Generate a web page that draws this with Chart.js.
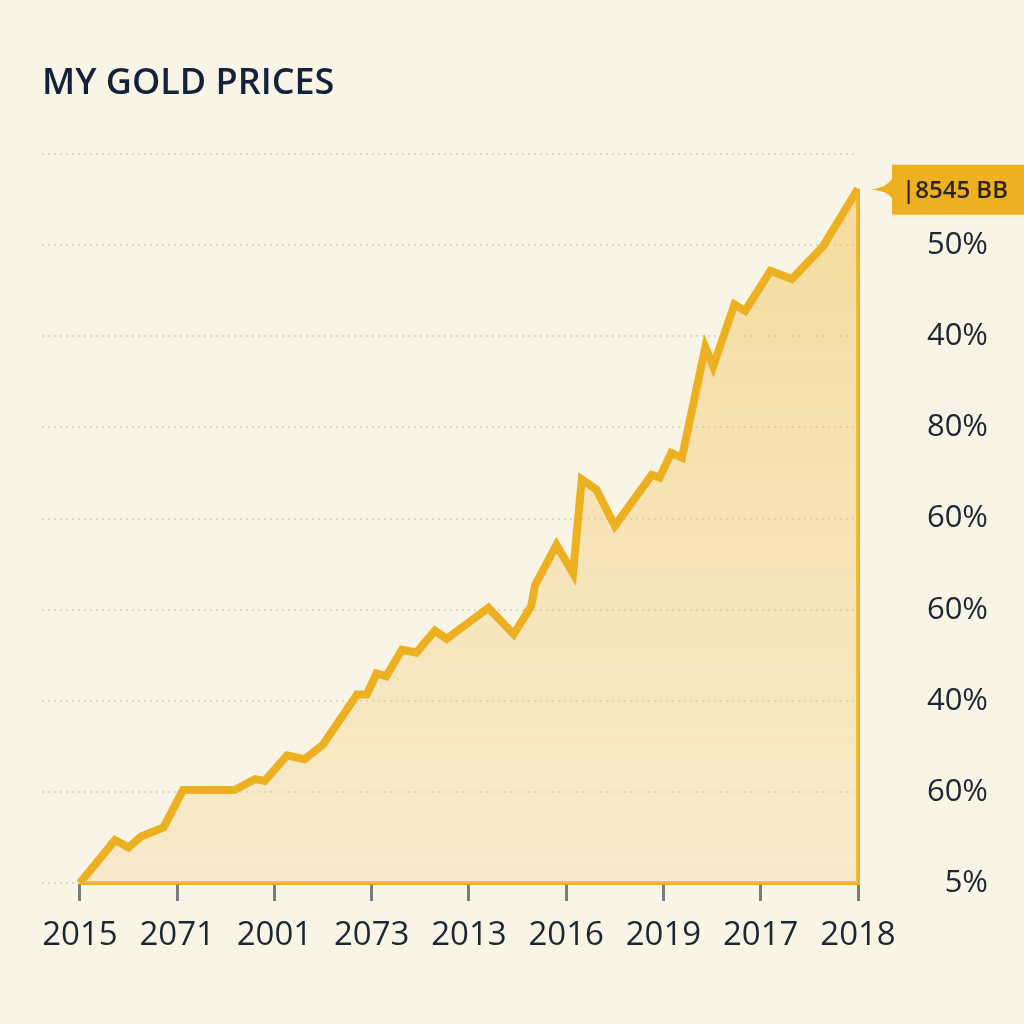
<!DOCTYPE html>
<html>
<head>
<meta charset="utf-8">
<title>My Gold Prices</title>
<script src="https://cdn.jsdelivr.net/npm/chart.js@4.4.1/dist/chart.umd.min.js"></script>
<style>
  html, body { margin: 0; padding: 0; background: #f8f5e7; }
  #wrap { width: 1024px; height: 1024px; position: relative; }
</style>
</head>
<body>
<div id="wrap"><canvas id="goldChart"></canvas></div>
<script>
// --- data ---
const years = ['2015', '2071', '2001', '2073', '2013', '2016', '2019', '2017', '2018'];
const yLabels = ['5%', '60%', '40%', '60%', '60%', '80%', '40%', '50%', ''];
const priceX = [0, 0.36, 0.50, 0.63, 0.86, 1.06, 1.59, 1.80, 1.90, 2.13, 2.31, 2.50, 2.85, 2.95,
  3.05, 3.15, 3.31, 3.46, 3.65, 3.77, 4.20, 4.46, 4.64, 4.68, 4.90, 5.07, 5.16, 5.31, 5.50,
  5.88, 5.96, 6.08, 6.19, 6.43, 6.51, 6.73, 6.84, 7.10, 7.32, 7.58, 7.64, 8.00];
const priceY = [0, 0.47, 0.39, 0.51, 0.61, 1.02, 1.02, 1.14, 1.12, 1.40, 1.36, 1.52, 2.07, 2.07,
  2.30, 2.27, 2.56, 2.53, 2.77, 2.68, 3.02, 2.73, 3.04, 3.27, 3.71, 3.40, 4.43, 4.32, 3.92,
  4.48, 4.45, 4.72, 4.67, 5.88, 5.67, 6.35, 6.28, 6.72, 6.63, 6.92, 6.99, 7.62];
const frameX = [0, 8, 8];
const frameY = [0, 0, 7.62];
const calloutText = '|8545 BB';

const GOLD = '#ecb021';
const INK = '#1d2733';

// callout box next to the last point
const calloutPlugin = {
  id: 'callout',
  afterDatasetsDraw(chart) {
    const meta = chart.getDatasetMeta(0);
    const last = meta.data[meta.data.length - 1];
    if (!last) return;
    const ctx = chart.ctx;
    const px = last.x, py = last.y;
    const left = px + 34, top = py - 24, bottom = py + 26, right = chart.width;
    ctx.save();
    ctx.fillStyle = GOLD;
    ctx.beginPath();
    ctx.moveTo(left, top);
    ctx.lineTo(right, top);
    ctx.lineTo(right, bottom);
    ctx.lineTo(left, bottom);
    ctx.lineTo(left, py + 10);
    ctx.quadraticCurveTo(left - 4, py + 2, px + 13, py + 1);
    ctx.quadraticCurveTo(left - 4, py - 2, left, py - 10);
    ctx.closePath();
    ctx.fill();
    ctx.fillStyle = '#2b2618';
    ctx.font = '600 24px "Open Sans"';
    ctx.textBaseline = 'middle';
    ctx.fillText(calloutText, left + 10, py + 2);
    ctx.restore();
  }
};

function initializeChart() {
  const ctx = document.getElementById('goldChart').getContext('2d');
  new Chart(ctx, {
    type: 'line',
    data: {
      datasets: [
        {
          data: priceX.map((x, i) => ({ x: x, y: priceY[i] })),
          borderColor: GOLD,
          borderWidth: 8,
          borderJoinStyle: 'miter',
          tension: 0,
          pointRadius: 0,
          fill: 'origin',
          backgroundColor: (c) => {
            const area = c.chart.chartArea;
            if (!area) return 'rgba(243,205,120,0.4)';
            const g = c.chart.ctx.createLinearGradient(0, area.top, 0, area.bottom);
            g.addColorStop(0, 'rgba(242,192,80,0.5)');
            g.addColorStop(1, 'rgba(246,214,150,0.35)');
            return g;
          }
        },
        {
          data: frameX.map((x, i) => ({ x: x, y: frameY[i] })),
          borderColor: GOLD,
          borderWidth: 4,
          pointRadius: 0,
          fill: false,
          clip: false
        }
      ]
    },
    options: {
      responsive: true,
      maintainAspectRatio: false,
      animation: false,
      layout: { padding: { left: 42, right: 36, top: 0, bottom: 0 } },
      plugins: {
        legend: { display: false },
        tooltip: { enabled: false },
        title: {
          display: true,
          text: 'MY GOLD PRICES',
          align: 'start',
          color: '#13223a',
          font: { family: '"Open Sans"', size: 36, weight: '600' },
          padding: { top: 62, bottom: 49 }
        }
      },
      scales: {
        x: {
          type: 'linear',
          position: 'bottom',
          min: -0.39,
          max: 8,
          afterBuildTicks: (s) => { s.ticks = years.map((_, i) => ({ value: i })); },
          afterFit: (s) => { s.height = 141; },
          border: { display: false },
          grid: { drawOnChartArea: false, drawTicks: true, tickLength: 18, tickColor: '#7c7c7c', tickWidth: 3 },
          ticks: {
            autoSkip: false, maxRotation: 0, padding: 15,
            color: INK, font: { family: '"Open Sans"', size: 33 },
            callback: (v) => years[v]
          }
        },
        y: {
          position: 'right',
          min: 0,
          max: 8,
          afterFit: (s) => { s.width = 130; },
          border: { display: false, dash: [2, 4] },
          grid: { color: '#dcd8c6', lineWidth: 2, drawTicks: false },
          ticks: {
            stepSize: 1, crossAlign: 'far', padding: 10,
            color: INK, font: { family: '"Open Sans"', size: 31 },
            callback: (v) => yLabels[v]
          }
        }
      }
    },
    plugins: [calloutPlugin]
  });
}

document.addEventListener('DOMContentLoaded', initializeChart);
</script>
</body>
</html>
